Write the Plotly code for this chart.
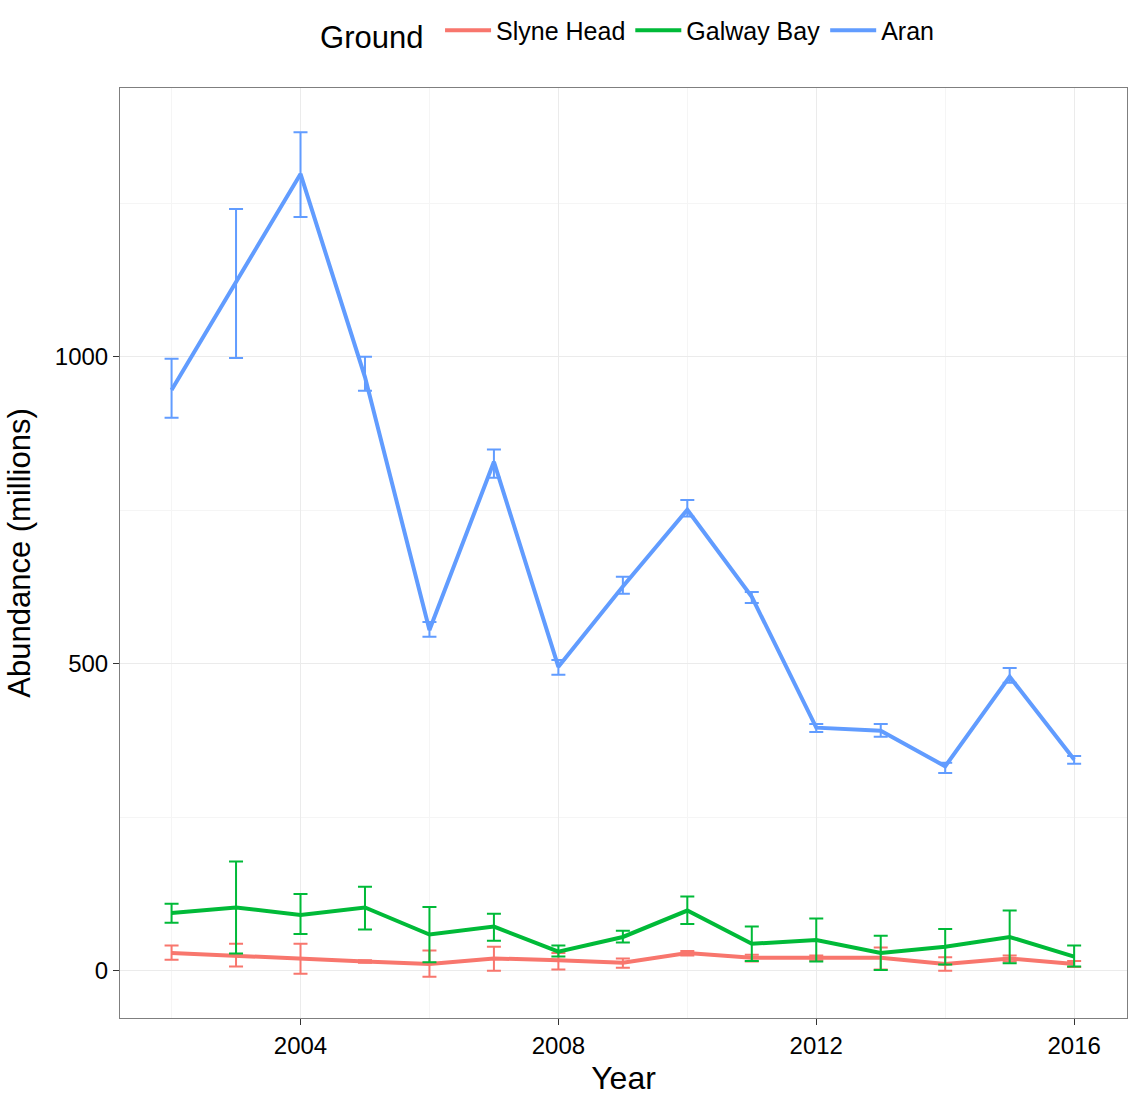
import plotly.graph_objects as go

years = list(range(2002, 2017))

slyne = [29, 24, 20, 15, 11, 20, 17, 13, 29, 21, 21, 21, 11, 20, 11]
slyne_hi = [41, 44, 44, 17, 33, 39, 29, 20, 32, 26, 25, 38, 22, 25, 16]
slyne_lo = [18, 7, -5, 13, -10, 0, 2, 5, 25, 15, 17, 2, 0, 15, 6]

galway = [94, 103, 91, 103, 59, 72, 31, 55, 98, 44, 50, 29, 39, 55, 23]
galway_hi = [109, 178, 125, 137, 104, 93, 41, 65, 121, 72, 85, 57, 68, 98, 41]
galway_lo = [78, 28, 60, 67, 14, 49, 23, 46, 76, 16, 15, 1, 10, 12, 7]

aran = [946, 1121, 1298, 967, 555, 829, 495, 626, 751, 609, 396, 391, 333, 479, 344]
aran_hi = [997, 1241, 1366, 1000, 568, 849, 506, 642, 767, 617, 402, 402, 339, 493, 350]
aran_lo = [901, 998, 1228, 945, 544, 803, 482, 614, 740, 599, 389, 381, 322, 469, 337]

series = [
    ("Slyne Head", slyne, slyne_hi, slyne_lo, "#F8766D"),
    ("Galway Bay", galway, galway_hi, galway_lo, "#00BA38"),
    ("Aran", aran, aran_hi, aran_lo, "#619CFF"),
]

fig = go.Figure()
for name, v, hi, lo, col in series:
    fig.add_trace(go.Scatter(
        x=years, y=v, mode="lines", name=name,
        line=dict(color=col, width=4),
        error_y=dict(type="data", symmetric=False,
                     array=[h - a for h, a in zip(hi, v)],
                     arrayminus=[a - l for a, l in zip(v, lo)],
                     color=col, thickness=2, width=7),
    ))

axis_common = dict(
    showgrid=True, gridcolor="#EBEBEB", gridwidth=1,
    ticks="outside", ticklen=6, tickcolor="#333333", tickwidth=1,
    tickfont=dict(size=24, color="black"),
    showline=True, linecolor="#7F7F7F", linewidth=1, mirror=True,
    zeroline=False, automargin=False,
)

fig.update_layout(
    width=1128, height=1097,
    margin=dict(l=120, r=1, t=88, b=79),
    paper_bgcolor="white", plot_bgcolor="white",
    font=dict(family="Liberation Sans, Arial, sans-serif", color="black"),
    showlegend=True,
    legend=dict(orientation="h", x=0.505, xanchor="center",
                yref="container", y=0.97, yanchor="middle",
                title=dict(text="Ground ", font=dict(size=31), side="left"),
                font=dict(size=25), itemwidth=46),
    xaxis=dict(range=[2001.2, 2016.82], tickvals=[2004, 2008, 2012, 2016],
               minor=dict(tickvals=[2002, 2006, 2010, 2014], showgrid=True,
                          gridcolor="#F5F5F5", gridwidth=1),
               title=dict(text="Year", font=dict(size=32), standoff=8),
               **axis_common),
    yaxis=dict(range=[-77, 1438], tickvals=[0, 500, 1000],
               minor=dict(tickvals=[250, 750, 1250], showgrid=True,
                          gridcolor="#F5F5F5", gridwidth=1),
               title=dict(text="Abundance (millions)", font=dict(size=31), standoff=14),
               **axis_common),
)

fig.write_html("out.html", config={"displayModeBar": False},
               post_script="document.body.style.margin='0';document.body.style.overflow='hidden';")
